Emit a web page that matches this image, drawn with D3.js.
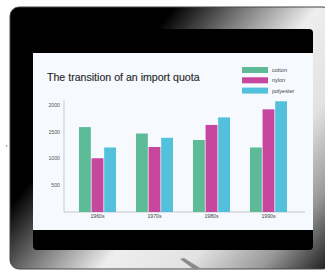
<!DOCTYPE html>
<html>
<head>
<meta charset="utf-8">
<script src="https://cdn.jsdelivr.net/npm/d3@7"></script>
<style>
  html, body { margin: 0; padding: 0; background: #fff; }
  svg { display: block; }
</style>
</head>
<body>
<div id="chart"></div>
<script>
// ── Data ────────────────────────────────────────────────
const decades   = ["1960s", "1970s", "1980s", "1990s"];
const series    = ["cotton", "nylon", "polyester"];
const cotton    = [1580, 1460, 1340, 1200];
const nylon     = [1000, 1210, 1620, 1910];
const polyester = [1200, 1380, 1760, 2060];
const yTicks    = [500, 1000, 1500, 2000];

const values = { cotton, nylon, polyester };
const COLORS = { cotton: "#5dbc97", nylon: "#c6479d", polyester: "#53c0dc" };

const W = 325, H = 270;
const svg = d3.select("#chart").append("svg")
  .attr("width", W).attr("height", H);

// ── Tablet bezel with a metallic sheen ──────────────────
const defs = svg.append("defs");
const grad = defs.append("linearGradient")
  .attr("id", "bezel")
  .attr("gradientUnits", "userSpaceOnUse")
  .attr("x1", 10).attr("y1", 7).attr("x2", 325).attr("y2", 268);
[[0, "#000"], [0.31, "#000"], [0.44, "#777"], [0.58, "#eee"],
 [0.74, "#e2e2e2"], [0.88, "#999"], [1, "#222"]]
  .forEach(([o, c]) => grad.append("stop").attr("offset", o).attr("stop-color", c));

svg.append("rect")
  .attr("x", 10).attr("y", 7).attr("width", 322).attr("height", 262)
  .attr("rx", 9).attr("fill", "url(#bezel)")
  .attr("stroke", "#444").attr("stroke-width", 1);

// black screen
svg.append("rect")
  .attr("x", 33).attr("y", 29).attr("width", 280).attr("height", 221)
  .attr("rx", 4).attr("fill", "#000");

// small stylus-like glint at the bottom
svg.append("path")
  .attr("d", "M180,259 L184,258 L200,268 L195,270 Z")
  .attr("fill", "#8a8a8a");

// stray dot left of the tablet
svg.append("circle").attr("cx", 6.5).attr("cy", 146).attr("r", 0.8).attr("fill", "#777");

// ── Chart area ───────────────────────────────────────────
svg.append("rect")
  .attr("x", 33).attr("y", 53).attr("width", 280).attr("height", 177)
  .attr("fill", "#f6f9fd");

svg.append("text")
  .attr("x", 47).attr("y", 81)
  .attr("font-family", "Arial, Liberation Sans, sans-serif")
  .attr("font-size", 10.6).attr("fill", "#2a2a2a")
  .attr("stroke", "#2a2a2a").attr("stroke-width", 0.15)
  .text("The transition of an import quota");

// Legend
series.forEach((s, i) => {
  const ly = 67 + i * 10.3;
  svg.append("rect")
    .attr("x", 242).attr("y", ly).attr("width", 26).attr("height", 6)
    .attr("fill", COLORS[s]);
  svg.append("text")
    .attr("x", 272).attr("y", ly + 5)
    .attr("font-family", "Arial, Liberation Sans, sans-serif")
    .attr("font-size", 5.5).attr("fill", "#444")
    .text(s);
});

// Scales
const x0 = d3.scaleBand().domain(decades).range([69, 297]).paddingInner(0.35).paddingOuter(0.175);
const x1 = d3.scaleBand().domain(series).range([0, x0.bandwidth()]).paddingInner(0.06);
const y  = d3.scaleLinear().domain([0, 2000]).range([212, 104.5]);

// Axis lines
svg.append("line")
  .attr("x1", 64).attr("x2", 64).attr("y1", 100).attr("y2", y(0))
  .attr("stroke", "#bbb").attr("stroke-width", 0.8);
svg.append("line")
  .attr("x1", 64).attr("x2", 305).attr("y1", y(0)).attr("y2", y(0))
  .attr("stroke", "#bbb").attr("stroke-width", 0.8);

// Y axis labels
const yAxis = svg.append("g")
  .attr("transform", "translate(60,0)")
  .call(d3.axisLeft(y).tickValues(yTicks).tickFormat(d3.format("d")).tickSize(0).tickPadding(0));
yAxis.select(".domain").remove();
yAxis.selectAll("text")
  .attr("font-family", "Arial, Liberation Sans, sans-serif")
  .attr("font-size", 5.2).attr("fill", "#555");

// X axis labels
const xAxis = svg.append("g")
  .attr("transform", `translate(0,${y(0) + 2})`)
  .call(d3.axisBottom(x0).tickSize(0).tickPadding(0));
xAxis.select(".domain").remove();
xAxis.selectAll("text")
  .attr("font-family", "Arial, Liberation Sans, sans-serif")
  .attr("font-size", 5.2).attr("fill", "#444");

// Bars
const g = svg.append("g");
decades.forEach((d, i) => {
  series.forEach(s => {
    const v = values[s][i];
    g.append("rect")
      .attr("x", x0(d) + x1(s))
      .attr("y", y(v))
      .attr("width", x1.bandwidth())
      .attr("height", y(0) - y(v))
      .attr("fill", COLORS[s]);
  });
});
</script>
</body>
</html>
